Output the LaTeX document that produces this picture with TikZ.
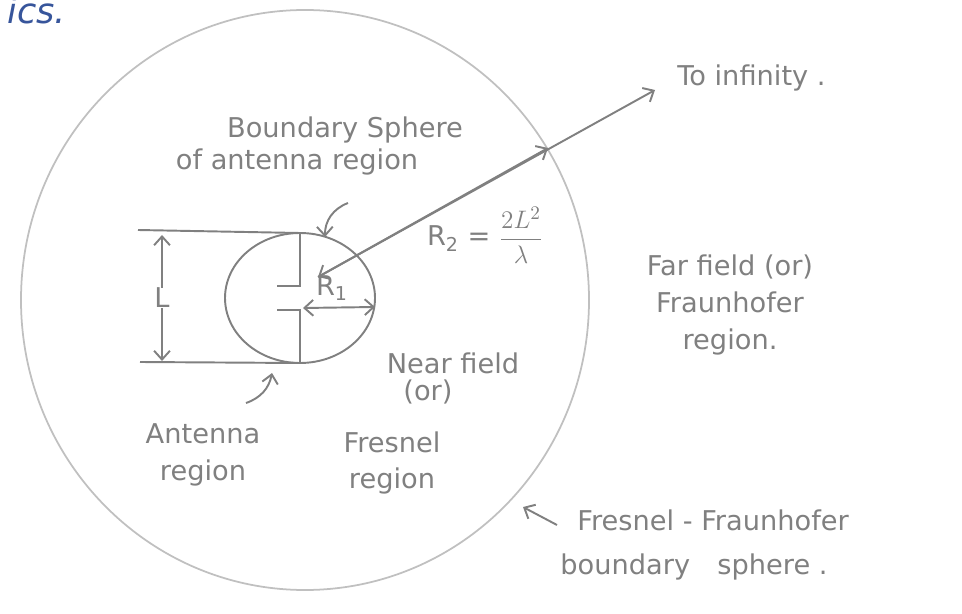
\documentclass[tikz,border=0pt]{standalone}
\usepackage{xcolor}
\usepackage{fontspec}
\setmainfont{DejaVu Sans}
\usepackage{tikz}
\usetikzlibrary{arrows.meta}
\definecolor{pencil}{RGB}{128,128,128}
\definecolor{faintline}{RGB}{192,192,192}
\definecolor{inkblue}{RGB}{55,85,155}

\begin{document}
\begin{tikzpicture}[x=0.02cm,y=-0.02cm,
  stroke/.style={draw=pencil,line width=1.1pt},
  barb/.style={-{Straight Barb[length=5pt,width=9pt]}},
  hand/.style={text=pencil,font=\fontsize{15.5}{21}\selectfont,inner sep=0pt}]
\useasboundingbox (0,0) rectangle (962,614);
\node[anchor=base east,text=inkblue,font=\fontsize{20}{24}\selectfont\itshape] (ics) at (72,24) {ics.};
\draw[draw=faintline,line width=1pt] (305,300) ellipse (284 and 290);
\draw[stroke] (300,298) ellipse (75 and 65);
\coordinate (topl) at (138,230);
\coordinate (topr) at (300,233);
\coordinate (botl) at (140,362);
\coordinate (botr) at (300,363);
\coordinate (feedu) at (300,286);
\coordinate (feedd) at (300,310);
\draw[stroke] (topl) -- (topr) -- (feedu) -- (277,286);
\draw[stroke] (botl) -- (botr) -- (feedd) -- (277,310);
\node[hand] (L) at (162,298) {L};
\coordinate (ltop) at (162,235);
\coordinate (lbot) at (162,361);
\draw[stroke,barb] (L.north) -- (ltop);
\draw[stroke,barb] (L.south) -- (lbot);
\coordinate (centre) at (303,308);
\coordinate (rimone) at (375,307);
\draw[stroke,{Straight Barb[length=5pt,width=9pt]}-{Straight Barb[length=5pt,width=9pt]}] (centre) -- (rimone);
\node[hand] (R1) at (332,288) {R\textsubscript{1}};
\coordinate (rtwoin) at (318,277);
\coordinate (rimtwo) at (548,148);
\coordinate (infty) at (655,90);
\draw[stroke,{Straight Barb[length=5pt,width=9pt]}-{Straight Barb[length=5pt,width=9pt]}] (rtwoin) -- (infty);
\draw[stroke,barb] (rtwoin) -- (rimtwo);
\node[hand,anchor=west] (toinf) at (677,78) {To infinity .};
\node[hand] (R2) at (485,235) {R\textsubscript{2} = $\displaystyle\frac{2L^2}{\lambda}$};
\node[hand] (bsph) at (345,130) {Boundary Sphere};
\node[hand] (bsphb) at (297,162) {of antenna region};
\coordinate (bstart) at (348,203);
\coordinate (btip) at (325,237);
\draw[stroke,barb] (bstart) to[bend right=35] (btip);
\node[hand,align=center] (far) at (730,305) {Far field (or)\\Fraunhofer\\region.};
\node[hand] (near) at (453,363) {Near field};
\node[hand] (nearor) at (428,392) {(or)};
\node[hand,align=center] (antreg) at (203,455) {Antenna\\region};
\coordinate (atail) at (246,403);
\coordinate (atip) at (272,373);
\draw[stroke,barb] (atail) to[bend right=30] (atip);
\node[hand,align=center] (fresnel) at (392,463) {Fresnel\\region};
\node[hand,anchor=west] (ffb) at (577,520) {Fresnel - Fraunhofer};
\node[hand,anchor=west] (ffbb) at (560,567) {boundary\quad sphere .};
\coordinate (ftail) at (557,525);
\coordinate (ftip) at (523,507);
\draw[stroke,barb] (ftail) -- (ftip);
\end{tikzpicture}
\end{document}
